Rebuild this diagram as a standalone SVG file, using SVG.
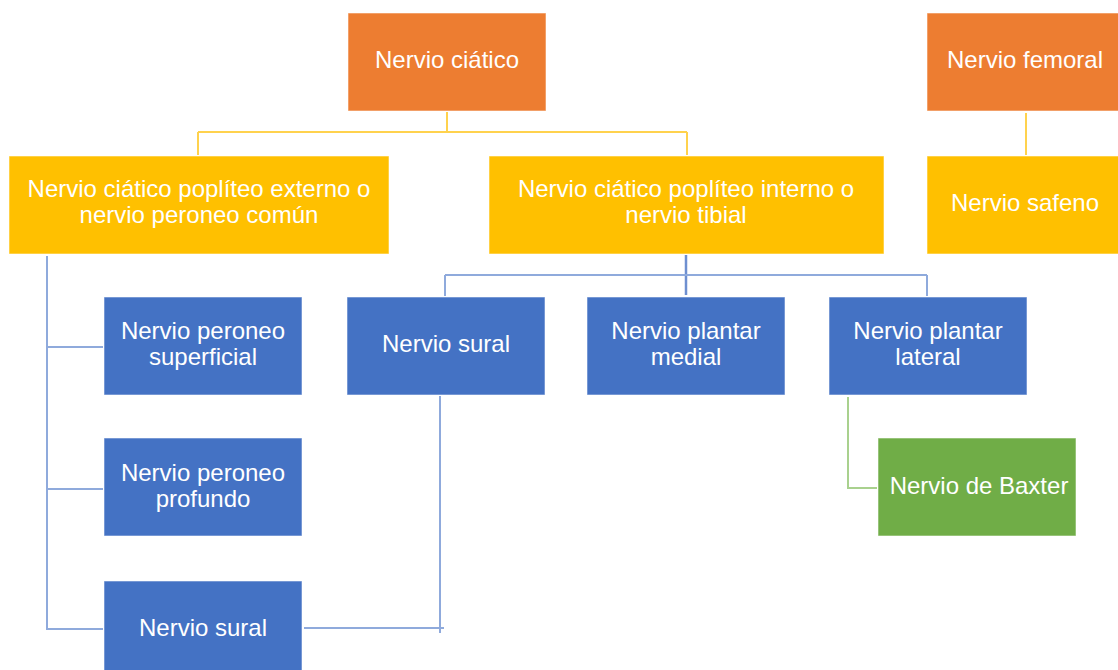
<svg xmlns="http://www.w3.org/2000/svg" width="1118" height="670" viewBox="0 0 1118 670">
<style>
.box{stroke:#ffffff;stroke-opacity:0.55;stroke-width:1}
.o{fill:#ED7D31}.y{fill:#FFC000}.b{fill:#4472C4}.g{fill:#70AD47}
text{font-family:"Liberation Sans",Arial,sans-serif;font-size:24px;fill:#ffffff;text-anchor:middle}
.cy{stroke:#FFD24D;stroke-width:2;fill:none}
.cb{stroke:#8FAADC;stroke-width:2;fill:none}
.cb2{stroke:#6E8FD0;stroke-width:2.5;fill:none}
.cg{stroke:#A9D18E;stroke-width:2;fill:none}
</style>
<rect width="1118" height="670" fill="#ffffff"/>
<g id="connectors">
<path class="cy" d="M447,112 V132 M198,132 H687 M198,132 V155 M687,132 V155"/>
<path class="cy" d="M1026,113 V155"/>
<path class="cb2" d="M686,255 V295"/>
<path class="cb" d="M445,275 H927 M445,275 V296 M927,275 V296"/>
<path class="cb" d="M47,256 V629 H103 M47,347 H103 M47,489 H103"/>
<path class="cb" d="M440,396 V633 M304,628 H444"/>
<path class="cg" d="M848,397 V488 H877"/>
</g>
<g id="n-ciatico"><rect class="box o" x="348" y="13" width="198" height="98"/><text x="447" y="68">Nervio ciático</text></g>
<g id="n-femoral"><rect class="box o" x="927" y="13" width="198" height="98"/><text x="1025" y="68">Nervio femoral</text></g>
<g id="n-externo"><rect class="box y" x="9" y="156" width="380" height="98"/><text x="199" y="197">Nervio ciático poplíteo externo o</text><text x="199" y="223">nervio peroneo común</text></g>
<g id="n-interno"><rect class="box y" x="489" y="156" width="395" height="98"/><text x="686" y="197">Nervio ciático poplíteo interno o</text><text x="686" y="223">nervio tibial</text></g>
<g id="n-safeno"><rect class="box y" x="927" y="156" width="198" height="98"/><text x="1025" y="211">Nervio safeno</text></g>
<g id="n-superficial"><rect class="box b" x="104" y="297" width="198" height="98"/><text x="203" y="339">Nervio peroneo</text><text x="203" y="365">superficial</text></g>
<g id="n-profundo"><rect class="box b" x="104" y="438" width="198" height="98"/><text x="203" y="481">Nervio peroneo</text><text x="203" y="507">profundo</text></g>
<g id="n-sural-bottom"><rect class="box b" x="104" y="581" width="198" height="98"/><text x="203" y="636">Nervio sural</text></g>
<g id="n-sural"><rect class="box b" x="347" y="297" width="198" height="98"/><text x="446" y="352">Nervio sural</text></g>
<g id="n-medial"><rect class="box b" x="587" y="297" width="198" height="98"/><text x="686" y="339">Nervio plantar</text><text x="686" y="365">medial</text></g>
<g id="n-lateral"><rect class="box b" x="829" y="297" width="198" height="98"/><text x="928" y="339">Nervio plantar</text><text x="928" y="365">lateral</text></g>
<g id="n-baxter"><rect class="box g" x="878" y="438" width="198" height="98"/><text x="979" y="494">Nervio de Baxter</text></g>
</svg>
